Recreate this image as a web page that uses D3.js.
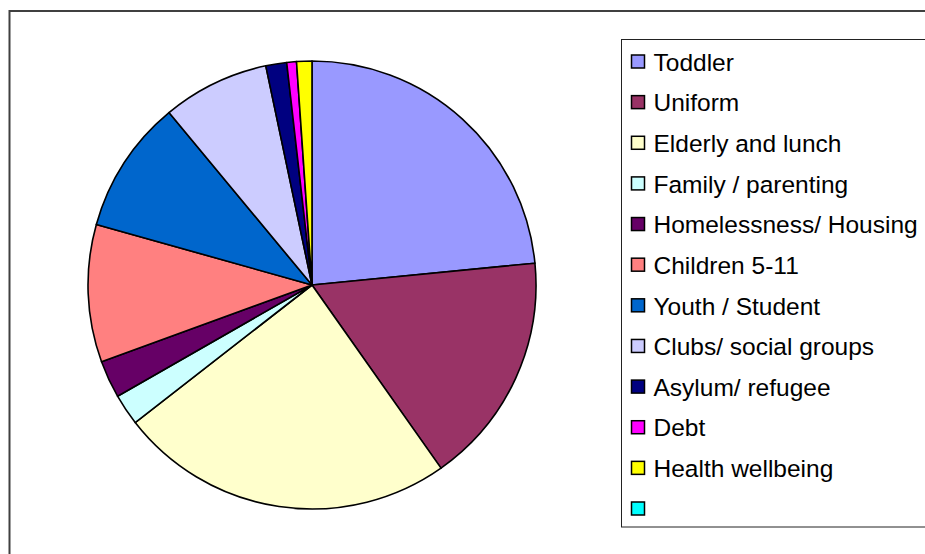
<!DOCTYPE html>
<html>
<head>
<meta charset="utf-8">
<script src="https://cdn.jsdelivr.net/npm/d3@7"></script>
<style>
  body { margin: 0; background: #fff; }
  svg { display: block; }
  text { font-family: "Liberation Sans", Arial, sans-serif; }
</style>
</head>
<body>
<script>
var categories = ["Toddler", "Uniform", "Elderly and lunch", "Family / parenting",
  "Homelessness/ Housing", "Children 5-11", "Youth / Student", "Clubs/ social groups",
  "Asylum/ refugee", "Debt", "Health wellbeing", ""];
var values = [23.4, 16.75, 24.2, 2.25, 2.7, 9.9, 9.6, 7.7, 1.5, 0.7, 1.1, 0];
var colors = ["#9999FF", "#993366", "#FFFFCC", "#CCFFFF", "#660066", "#FF8080",
  "#0066CC", "#CCCCFF", "#000080", "#FF00FF", "#FFFF00", "#00FFFF"];

var w = 925, h = 554;
var svg = d3.select("body").append("svg")
  .attr("width", w)
  .attr("height", h);

// outer chart frame (runs off the right and bottom)
svg.append("rect")
  .attr("x", 9.5).attr("y", 11)
  .attr("width", 1000).attr("height", 1000)
  .style("fill", "#fff")
  .style("stroke", "#404040")
  .style("stroke-width", 2);

var cx = 312, cy = 285, r = 224;

var data = categories.map(function(c, i) { return {name: c, value: values[i], color: colors[i]}; });

var pie = d3.pie()
  .sort(null)
  .value(function(d) { return d.value; });
var arc = d3.arc().innerRadius(0).outerRadius(r);

var g = svg.append("g").attr("transform", "translate(" + cx + "," + cy + ")");
g.selectAll("path")
    .data(pie(data).filter(function(d) { return d.data.value > 0; }))
  .enter().append("path")
    .attr("d", arc)
    .style("fill", function(d) { return d.data.color; })
    .style("stroke", "#000")
    .style("stroke-width", 1.6)
    .style("stroke-linejoin", "round");

// legend
var legX = 621.5, legY = 39.5;
svg.append("rect")
  .attr("x", legX).attr("y", legY)
  .attr("width", 400).attr("height", 487.5)
  .style("fill", "#fff")
  .style("stroke", "#222")
  .style("stroke-width", 1);

var rowY = d3.scaleLinear()
  .domain([0, categories.length - 1])
  .range([62, 509]);

var item = svg.selectAll("g.leg")
    .data(data)
  .enter().append("g")
    .attr("class", "leg")
    .attr("transform", function(d, i) { return "translate(0," + rowY(i) + ")"; });

item.append("rect")
  .attr("x", 631.5).attr("y", -7)
  .attr("width", 13).attr("height", 13)
  .style("fill", function(d) { return d.color; })
  .style("stroke", "#000")
  .style("stroke-width", 1.5);

item.append("text")
  .attr("x", 653.5).attr("y", 8.7)
  .style("font-size", "24.5px")
  .style("fill", "#000")
  .text(function(d) { return d.name; });
</script>
</body>
</html>
